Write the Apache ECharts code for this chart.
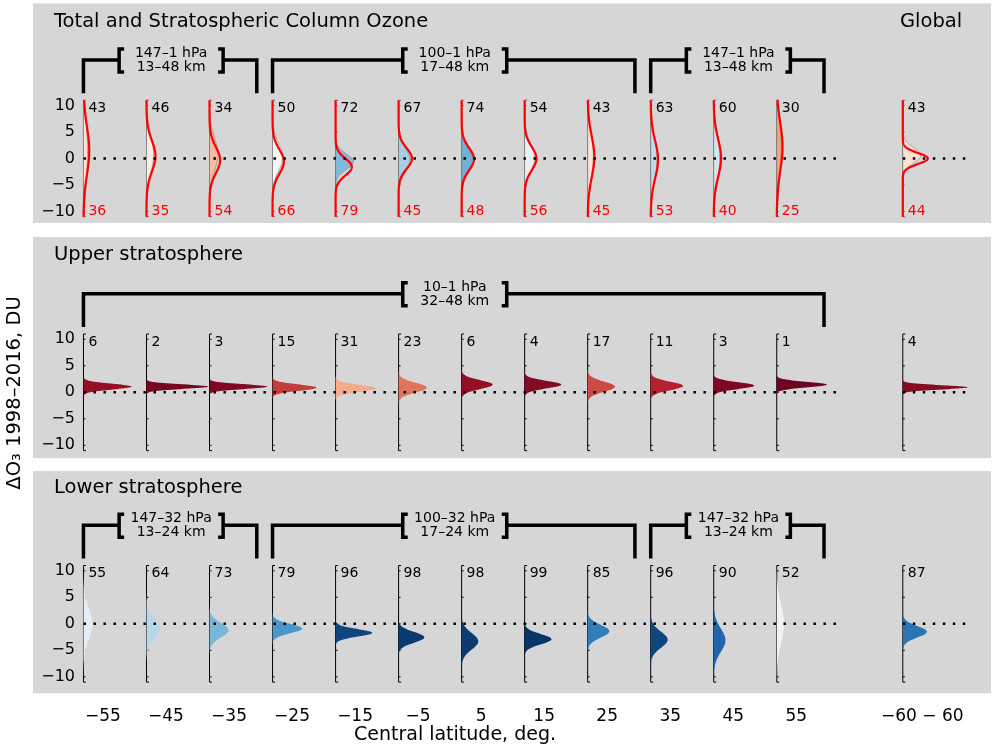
<!DOCTYPE html>
<html><head><meta charset="utf-8">
<script src="https://cdn.jsdelivr.net/npm/echarts@6/dist/echarts.min.js"></script>
<style>html,body{margin:0;padding:0;background:#fff}#c{width:997px;height:749px}</style>
</head><body><div id="c"></div>
<script>
// ---------------- data ----------------
const latitudes = [-55,-45,-35,-25,-15,-5,5,15,25,35,45,55,75];   // 75 = slot of the global (-60 - 60) band
const latLabels = ['−55','−45','−35','−25','−15','−5','5','15','25','35','45','55','−60 − 60'];
const yTicks = [-10,-5,0,5,10];

// Panel 1: total (red line) and stratospheric (filled) column ozone distributions
const colPctTop    = [43,46,34,50,72,67,74,54,43,63,60,30,43];
const colPctBottom = [36,35,54,66,79,45,48,56,45,53,40,25,44];
const scoMean  = [1.0, 0.8, 0.8, 0.3,-0.6,-0.3,-0.5, 0.2, 0.8, 0.0, 0.0, 1.5, 0.6];
const scoSigma = [6.5, 3.7, 3.1, 2.5, 1.45,2.3, 2.2, 2.6, 4.6, 4.1, 4.3, 5.8, 1.45];
const tcoMean  = [1.5, 0.45,-0.3,-0.6,-1.6, 0.0,-0.1, 0.0, 0.3,-0.2, 0.1, 2.2, 0.0];
const tcoSigma = [4.5, 2.9, 2.45,2.3, 1.6, 1.95,2.1, 2.2, 3.9, 3.55,3.55,4.5, 1.04];

// Panel 2: upper stratosphere
const upperPct   = [6,2,3,15,31,23,6,4,17,11,3,1,4];
const upperMean  = [1.07,1.07,1.07,0.88,0.75,0.88,1.45,1.45,1.07,1.2,1.26,1.45,0.94];
const upperSigma = [0.54,0.42,0.45,0.59,0.65,0.92,0.84,0.71,0.95,0.8,0.64,0.52,0.40];

// Panel 3: lower stratosphere
const lowerPct   = [55,64,73,79,96,98,98,99,85,96,90,52,87];
const lowerMean  = [0.0,-0.8,-1.2,-0.9,-1.7,-2.55,-3.3,-2.9,-1.4,-3.0,-3.1,0.0,-1.5];
const lowerSigma = [2.9,1.95,1.37,0.88,0.71,1.01,1.56,0.97,1.2,1.53,2.22,3.56,1.08];

// Bracket annotations (latitude groups and layer labels)
const bracketFrom = [[-55,-25,35],[-55],[-55,-25,35]];
const bracketTo   = [[-35,25,55],[55],[-35,25,55]];
const bracketLine1 = [['147–1 hPa','100–1 hPa','147–1 hPa'],['10–1 hPa'],['147–32 hPa','100–32 hPa','147–32 hPa']];
const bracketLine2 = [['13–48 km','17–48 km','13–48 km'],['32–48 km'],['13–24 km','17–24 km','13–24 km']];
const zeroFrom = [-55, 75];
const zeroTo   = [55, 75];

// ---------------- drawing helpers ----------------
const FONT = '"DejaVu Sans", sans-serif';
const PDF_SCALE = 10.34;   // x-axis units per unit of probability density
const OFF = 19.5;          // px: distribution baseline sits left of its label position
const RDBU = ['#67001f','#b2182b','#d6604d','#f4a582','#fddbc7','#f7f7f7','#d1e5f0','#92c5de','#4393c3','#2166ac','#053061'];

function pdf(y, m, s){ return Math.exp(-0.5*((y-m)/s)*((y-m)/s))/(s*Math.sqrt(2*Math.PI)); }
function baseX(api, lat){ return api.coord([lat, 0])[0] - OFF; }
function curve(api, lat, m, s){
  const bx = baseX(api, lat);
  const pts = [];
  for (let i = 0; i <= 440; i++){
    const y = -11 + i*0.05;
    const w = api.size([PDF_SCALE*pdf(y, m, s), 0])[0];
    pts.push([bx + w, api.coord([lat, y])[1]]);
  }
  return {bx, pts};
}

function rows(a, b, c){ return latitudes.map((l,i)=>[l, a[i], b[i], c ? c[i] : 0]); }

function fillSeries(gi, data, outline){
  return {type:'custom', xAxisIndex:gi, yAxisIndex:gi, data, encode:{x:0,y:1}, z:3,
    renderItem(params, api){
      const {bx, pts} = curve(api, api.value(0), api.value(1), api.value(2));
      const poly = [[bx, pts[0][1]]].concat(pts, [[bx, pts[pts.length-1][1]]]);
      return {type:'polygon', shape:{points:poly},
        style:{fill: api.visual('color'), stroke: outline ? 'rgba(110,110,110,0.7)' : null, lineWidth: outline ? 0.8 : 0}};
    }};
}
function redSeries(gi, data){
  return {type:'custom', xAxisIndex:gi, yAxisIndex:gi, data, encode:{x:0,y:1}, z:4,
    renderItem(params, api){
      const {pts} = curve(api, api.value(0), api.value(1), api.value(2));
      return {type:'polyline', shape:{points:pts}, style:{stroke:'#ff0000', lineWidth:2.2, fill:null}};
    }};
}
function axisSeries(gi, color){
  return {type:'custom', xAxisIndex:gi, yAxisIndex:gi, data: latitudes.map(l=>[l,0]), encode:{x:0,y:1}, z:2,
    renderItem(params, api){
      const lat = api.value(0), bx = baseX(api, lat);
      const yt = api.coord([lat, 11])[1], yb = api.coord([lat, -11])[1];
      const ch = [{type:'line', shape:{x1:bx,y1:yt,x2:bx,y2:yb}, style:{stroke:color, lineWidth:1}},
        {type:'line', shape:{x1:bx,y1:yt,x2:bx+2.5,y2:yt}, style:{stroke:color, lineWidth:1}},
        {type:'line', shape:{x1:bx,y1:yb,x2:bx+2.5,y2:yb}, style:{stroke:color, lineWidth:1}}];
      for (const t of [-10,-5,0,5,10]){
        const yy = api.coord([lat, t])[1];
        ch.push({type:'line', shape:{x1:bx,y1:yy,x2:bx+2,y2:yy}, style:{stroke:color, lineWidth:1}});
      }
      return {type:'group', children: ch};
    }};
}
function zeroSeries(gi){
  return {type:'custom', xAxisIndex:gi, yAxisIndex:gi, data: zeroFrom.map((f,i)=>[f, zeroTo[i]]), encode:{x:0}, z:5,
    renderItem(params, api){
      const x1 = baseX(api, api.value(0));
      const x2 = baseX(api, api.value(1)) + api.size([10,0])[0];
      const y = api.coord([api.value(0), 0])[1];
      return {type:'line', shape:{x1, y1:y, x2, y2:y}, style:{stroke:'#000', lineWidth:2.5, lineDash:[2.5,7.5]}};
    }};
}
function numberSeries(gi, top, bottom){
  return {type:'custom', xAxisIndex:gi, yAxisIndex:gi, data: latitudes.map((l,i)=>[l, top[i], bottom ? bottom[i] : 0]), encode:{x:0}, z:6,
    renderItem(params, api){
      const lat = api.value(0), bx = baseX(api, lat);
      const ch = [{type:'text', style:{text:String(top[params.dataIndex]), x:bx+5, y:api.coord([lat, 9.5])[1],
        fill:'#000', font:'14px '+FONT, textAlign:'left', textVerticalAlign:'middle'}}];
      if (bottom) ch.push({type:'text', style:{text:String(bottom[params.dataIndex]), x:bx+5, y:api.coord([lat, -10])[1],
        fill:'#ff0000', font:'14px '+FONT, textAlign:'left', textVerticalAlign:'middle'}});
      return {type:'group', children: ch};
    }};
}
function bracketSeries(gi){
  const from = bracketFrom[gi], to = bracketTo[gi];
  return {type:'custom', xAxisIndex:gi, yAxisIndex:gi, data: from.map((f,i)=>[f, to[i]]), encode:{x:0}, z:6,
    renderItem(params, api){
      const i = params.dataIndex;
      const x1 = baseX(api, api.value(0));
      const x2 = baseX(api, api.value(1)) + api.size([7.5,0])[0];
      const yh = api.coord([0, 18.6])[1], yv = api.coord([0, 12.3])[1];
      const cx = (x1 + x2)/2, lb = cx - 51, rb = cx + 53;
      const st = {stroke:'#000', lineWidth:3.5, fill:null, lineJoin:'miter', lineCap:'butt'};
      return {type:'group', children:[
        {type:'polyline', shape:{points:[[x1,yv],[x1,yh],[lb,yh]]}, style:st},
        {type:'polyline', shape:{points:[[lb+5,yh-11],[lb,yh-11],[lb,yh+12],[lb+5,yh+12]]}, style:st},
        {type:'polyline', shape:{points:[[rb-5,yh-11],[rb,yh-11],[rb,yh+12],[rb-5,yh+12]]}, style:st},
        {type:'polyline', shape:{points:[[rb,yh],[x2,yh],[x2,yv]]}, style:st},
        {type:'text', style:{text:bracketLine1[gi][i], x:cx+1, y:yh-6.5, fill:'#000', font:'14px '+FONT, textAlign:'center', textVerticalAlign:'middle'}},
        {type:'text', style:{text:bracketLine2[gi][i], x:cx+1, y:yh+7.5, fill:'#000', font:'14px '+FONT, textAlign:'center', textVerticalAlign:'middle'}}
      ]};
    }};
}

// ---------------- layout ----------------
const gridDefs = [
  {top:3.5, height:219.5, min:-12.17, max:29.25},
  {top:237, height:221.3, min:-12.45, max:29.3},
  {top:471, height:222.3, min:-13.11, max:28.83}
];
const X_MIN = -66.1, X_MAX = 85.9;

const grids = gridDefs.map(g=>({left:33, width:958, top:g.top, height:g.height, show:true, backgroundColor:'#d6d6d6', borderWidth:0}));
const xAxes = gridDefs.map((g,i)=>({type:'value', gridIndex:i, min:X_MIN, max:X_MAX, show: i===2,
  axisLine:{show:false}, axisTick:{show:false}, splitLine:{show:false},
  axisLabel:{customValues: latitudes, margin:15, fontSize:17, color:'#000', fontFamily:FONT,
    formatter: v => latLabels[latitudes.indexOf(v)] || ''}}));
const yAxes = gridDefs.map((g,i)=>({type:'value', gridIndex:i, min:g.min, max:g.max, offset:-50,
  axisLine:{show:false}, axisTick:{show:false}, splitLine:{show:false},
  axisLabel:{customValues: yTicks, margin:8, fontSize:16, color:'#000', fontFamily:FONT,
    formatter: v => String(v).replace('-', '−')}}));

const series = [
  axisSeries(0, '#707070'),
  fillSeries(0, rows(scoMean, scoSigma, colPctTop), true),
  redSeries(0, rows(tcoMean, tcoSigma)),
  zeroSeries(0),
  numberSeries(0, colPctTop, colPctBottom),
  bracketSeries(0),
  axisSeries(1, '#000'),
  fillSeries(1, rows(upperMean, upperSigma, upperPct), false),
  zeroSeries(1),
  numberSeries(1, upperPct),
  bracketSeries(1),
  axisSeries(2, '#000'),
  fillSeries(2, rows(lowerMean, lowerSigma, lowerPct), false),
  zeroSeries(2),
  numberSeries(2, lowerPct),
  bracketSeries(2)
];

const txt = (text, x, y, size, align, extra) => Object.assign({type:'text', x, y,
  style:{text, font: size+'px '+FONT, fill:'#000', textAlign:align||'left', textVerticalAlign:'middle'}}, extra||{});

const chart = echarts.init(document.getElementById('c'), null, {renderer:'canvas'});
chart.setOption({
  animation:false,
  backgroundColor:'#ffffff',
  grid: grids, xAxis: xAxes, yAxis: yAxes,
  visualMap:{type:'continuous', show:false, min:0, max:100, dimension:3, seriesIndex:[1,7,12], inRange:{color:RDBU}},
  graphic:[
    txt('Total and Stratospheric Column Ozone', 54, 22, 19.5),
    txt('Global', 900, 22, 19.5),
    txt('Upper stratosphere', 54, 255, 19.5),
    txt('Lower stratosphere', 54, 488, 19.5),
    txt('Central latitude, deg.', 455, 735, 19, 'center'),
    txt('ΔO₃ 1998–2016, DU', 15, 393, 19.5, 'center', {rotation: Math.PI/2})
  ],
  series
});
</script></body></html>
